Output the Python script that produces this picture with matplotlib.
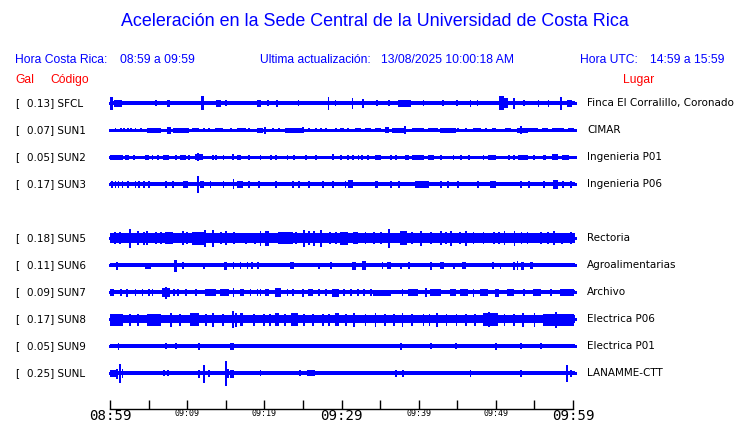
import matplotlib.pyplot as plt
from matplotlib.transforms import blended_transform_factory

# ---- data ----
title = "Aceleración en la Sede Central de la Universidad de Costa Rica"
hora_cr = "08:59 a 09:59"
hora_utc = "14:59 a 15:59"
actualizacion = "13/08/2025 10:00:18 AM"

# station slots top to bottom (SUN4 has no data in this window)
codes = ["SFCL", "SUN1", "SUN2", "SUN3", "SUN4", "SUN5", "SUN6", "SUN7", "SUN8", "SUN9", "SUNL"]
gal = [0.13, 0.07, 0.05, 0.17, None, 0.18, 0.11, 0.09, 0.17, 0.05, 0.25]
places = ["Finca El Corralillo, Coronado", "CIMAR", "Ingenieria P01", "Ingenieria P06", None,
          "Rectoria", "Agroalimentarias", "Archivo", "Electrica P06", "Electrica P01", "LANAMME-CTT"]

# background noise level of each trace (relative amplitude)
noise = [2.2, 0.5, 0.5, 1.8, None, 4.8, 2.0, 1.8, 4.2, 1.8, 1.7]

# bursts on each trace: (start min, end min, amplitude)
bursts_sfcl = [(0.0, 0.3, 6), (0.5, 1.4, 3), (5.8, 5.9, 2.5), (7.4, 7.6, 3), (11.8, 12.0, 6.5),
               (13.8, 14.3, 3), (14.9, 15.0, 2.5), (19.0, 19.5, 3), (20.4, 20.5, 2.5), (21.5, 21.7, 3),
               (24.3, 24.4, 2.5), (28.2, 28.3, 6), (29.1, 29.2, 2.5), (31.3, 31.4, 5), (32.7, 32.8, 4),
               (34.5, 34.6, 2.5), (36.0, 36.1, 2.5), (37.3, 38.9, 3), (40.5, 40.6, 2.5), (43.0, 43.1, 2.5),
               (44.9, 45.0, 2.5), (46.6, 46.7, 3), (47.5, 47.6, 2.5), (50.4, 50.9, 6.5), (51.0, 51.5, 4.5),
               (52.2, 52.3, 5), (53.5, 53.6, 2.5), (55.4, 55.5, 3), (56.7, 56.8, 3), (58.3, 58.4, 6),
               (59.2, 59.8, 3)]
bursts_sun1 = [(0.6, 0.7, 1.5), (1.3, 1.4, 1.5), (1.7, 1.8, 1.5), (2.2, 2.3, 1.5), (2.6, 2.7, 1.5),
               (3.2, 3.3, 1.5), (3.9, 4.0, 1.5), (4.8, 6.5, 2), (7.4, 7.8, 3), (8.2, 10.1, 1.8),
               (10.6, 11.4, 1.5), (12.1, 12.2, 1.5), (12.7, 12.8, 1.5), (13.6, 14.5, 1.5), (15.6, 15.7, 1.5),
               (16.5, 17.5, 1.5), (17.9, 18.0, 1.5), (19.0, 19.7, 1.8), (20.0, 20.1, 3), (21.0, 21.1, 1.5),
               (21.8, 21.9, 1.5), (22.7, 24.9, 1.8), (24.9, 25.0, 2.5), (25.7, 25.8, 1.5), (26.6, 26.7, 1.5),
               (27.2, 27.3, 1.5), (27.9, 28.0, 1.5), (29.2, 29.3, 1.5), (29.8, 30.2, 1.5), (30.7, 30.8, 1.5),
               (31.7, 32.4, 1.5), (33.0, 33.7, 1.5), (34.3, 35.0, 1.5), (35.6, 36.0, 2.5), (36.5, 38.2, 2.2),
               (38.1, 38.2, 3.5), (39.1, 40.6, 1.5), (41.2, 42.4, 1.5), (42.8, 44.7, 1.8), (45.0, 45.1, 1.5),
               (46.0, 46.1, 1.5), (47.0, 47.9, 1.5), (48.6, 48.7, 1.5), (49.5, 49.9, 1.5), (51.2, 51.8, 1.5),
               (52.7, 54.0, 2.3), (53.1, 53.2, 3.5), (54.2, 55.3, 1.5), (56.0, 56.6, 1.5), (57.3, 58.7, 1.5),
               (59.4, 60.0, 1.5)]
bursts_sun2 = [(0.0, 1.6, 2), (1.9, 2.3, 1.8), (3.0, 3.1, 1.8), (4.5, 4.9, 1.8), (5.4, 5.5, 1.8),
               (6.1, 6.2, 1.8), (6.9, 7.5, 1.8), (8.4, 8.5, 1.8), (9.1, 9.7, 1.8), (10.1, 10.2, 1.8),
               (11.0, 11.9, 2.5), (11.3, 11.4, 3.5), (13.2, 13.3, 1.8), (13.6, 13.7, 1.8), (14.6, 14.7, 1.8),
               (15.8, 15.9, 2.5), (16.5, 16.8, 1.8), (17.9, 18.0, 1.8), (19.4, 19.5, 1.8), (20.7, 20.8, 1.8),
               (21.4, 21.5, 1.8), (22.9, 23.0, 1.8), (23.7, 23.8, 1.8), (25.3, 25.4, 1.8), (26.6, 26.7, 1.8),
               (28.8, 28.9, 2.5), (29.8, 29.9, 1.8), (30.7, 30.8, 1.8), (31.4, 31.5, 1.8), (32.1, 32.2, 1.8),
               (32.5, 32.6, 1.8), (33.3, 33.4, 1.8), (34.3, 35.0, 1.8), (36.3, 36.4, 1.8), (36.9, 37.0, 1.8),
               (38.2, 38.6, 1.8), (39.1, 40.6, 2), (41.2, 41.9, 1.8), (42.8, 42.9, 1.8), (44.4, 44.5, 1.8),
               (45.4, 45.5, 1.8), (46.4, 46.5, 1.8), (48.3, 48.4, 1.8), (49.0, 49.9, 2), (51.6, 51.7, 1.8),
               (52.2, 52.3, 1.8), (52.9, 54.0, 1.8), (54.8, 54.9, 1.8), (56.1, 56.4, 1.8), (57.3, 57.9, 2.5),
               (58.6, 59.4, 1.8)]
bursts_sun3 = [(0.1, 0.2, 3), (0.6, 0.7, 2.8), (1.0, 1.1, 2.8), (1.5, 1.6, 2.8), (2.2, 2.3, 2.8),
               (3.2, 3.3, 2.8), (3.6, 3.7, 2.8), (4.3, 4.4, 2.8), (4.9, 5.0, 2.8), (7.1, 7.2, 3),
               (8.0, 8.1, 2.8), (9.4, 10.0, 3), (11.3, 11.4, 8), (11.6, 12.1, 2.8), (12.9, 13.0, 2.8),
               (14.6, 14.7, 3), (15.9, 16.0, 4.5), (16.4, 17.1, 2.8), (17.9, 18.0, 2.8), (19.2, 19.3, 2.8),
               (21.4, 21.5, 2.8), (23.6, 23.7, 2.8), (24.4, 24.5, 2.8), (25.7, 25.8, 2.8), (27.5, 27.6, 2.8),
               (28.8, 28.9, 2.8), (30.4, 30.5, 2.8), (30.9, 31.4, 3.5), (34.3, 34.6, 3), (36.3, 36.4, 2.8),
               (37.3, 37.4, 2.8), (39.5, 41.2, 3), (42.8, 42.9, 2.8), (43.7, 43.8, 2.8), (45.0, 45.1, 2.8),
               (47.6, 47.7, 2.8), (49.2, 49.9, 3), (53.1, 53.2, 2.8), (54.2, 54.3, 2.8), (56.1, 56.2, 2.8),
               (57.4, 57.9, 4), (58.6, 58.7, 2.8), (59.6, 59.7, 2.8)]
bursts_sun5 = [(0.5, 0.6, 5.5), (1.2, 1.3, 5.5), (2.4, 2.6, 9), (3.5, 3.6, 6.5), (4.3, 4.4, 6), (4.7, 4.8, 6.5),
               (5.8, 5.9, 5.5), (6.5, 6.6, 5.5), (7.1, 8.0, 5.5), (9.3, 9.4, 6.5), (9.9, 10.0, 5.5),
               (10.6, 12.3, 6), (12.2, 12.3, 8), (13.2, 13.4, 8), (14.3, 14.4, 5.5), (14.9, 15.0, 6.5),
               (16.0, 16.1, 5.5), (17.5, 17.6, 5), (18.7, 18.8, 5), (19.4, 19.5, 7), (20.1, 20.5, 7),
               (21.8, 23.6, 5.5), (24.0, 24.1, 5.5), (25.0, 25.1, 8), (25.7, 25.8, 6.5), (26.3, 26.4, 7),
               (27.2, 27.3, 8), (28.4, 28.5, 5.5), (29.2, 29.3, 5.5), (29.8, 30.7, 6), (31.5, 32.0, 5.5),
               (33.0, 33.1, 5.5), (34.1, 34.2, 5.5), (35.0, 35.1, 5.5), (36.0, 36.1, 9), (37.6, 38.4, 6.5),
               (39.0, 39.1, 5.5), (40.2, 40.3, 7), (41.5, 41.6, 5.5), (42.8, 42.9, 6.5), (43.4, 43.5, 5.5),
               (44.1, 44.2, 7), (45.2, 45.3, 5.5), (46.0, 46.1, 7), (47.0, 47.1, 5.5), (48.3, 48.4, 5.5),
               (49.6, 49.7, 5.5), (50.3, 50.4, 5.5), (51.0, 51.1, 6.5), (52.3, 52.4, 7), (53.2, 53.3, 5.5),
               (54.0, 54.1, 5.5), (55.7, 55.8, 5.5), (56.6, 56.7, 5.5), (57.4, 57.5, 6.5), (58.5, 58.6, 5),
               (59.6, 59.7, 5.5)]
bursts_sun6 = [(0.8, 0.9, 3.5), (4.5, 5.2, 2.5), (8.3, 8.6, 5.5), (9.3, 9.4, 3), (12.1, 12.2, 2.5),
               (14.8, 15.0, 3.5), (15.9, 16.0, 3), (16.8, 16.9, 3), (17.7, 17.8, 3), (18.3, 18.4, 3),
               (19.0, 19.2, 3), (23.3, 23.7, 3), (27.0, 27.1, 2.5), (28.5, 28.6, 3), (31.4, 31.8, 3.5),
               (32.7, 33.0, 4), (35.2, 35.3, 3), (35.9, 36.3, 3), (37.6, 37.7, 2.5), (38.6, 38.7, 3),
               (41.5, 41.6, 3.5), (42.8, 43.2, 3), (44.5, 44.6, 2.5), (45.6, 46.0, 3), (49.5, 49.6, 3),
               (50.5, 50.6, 2.5), (52.2, 52.3, 3.5), (52.7, 52.8, 4), (53.2, 53.5, 3.5), (54.4, 54.7, 3)]
bursts_sun7 = [(0.0, 0.4, 3), (1.3, 1.4, 2.8), (2.1, 2.2, 3.5), (3.2, 3.3, 2.8), (4.1, 4.2, 2.8),
               (4.9, 5.0, 2.8), (5.4, 5.5, 2.8), (6.7, 7.6, 4), (7.1, 7.2, 5.5), (8.2, 8.3, 2.8),
               (8.7, 8.8, 2.8), (9.7, 9.8, 2.8), (11.0, 11.1, 2.8), (12.3, 13.6, 2.8), (14.3, 15.3, 2.8),
               (15.9, 16.0, 4), (16.8, 17.2, 2.8), (18.1, 18.2, 2.8), (19.0, 19.1, 2.8), (19.4, 19.5, 2.8),
               (20.1, 20.5, 2.8), (21.4, 22.0, 4), (22.9, 23.0, 2.8), (23.6, 23.7, 2.8), (24.9, 25.0, 3.5),
               (25.7, 26.2, 2.8), (27.0, 27.1, 2.8), (27.9, 28.0, 2.8), (28.8, 29.5, 3.5), (30.2, 30.3, 2.8),
               (31.1, 31.2, 2.8), (32.0, 32.1, 2.8), (32.8, 32.9, 2.8), (33.7, 33.8, 2.8), (34.1, 36.3, 2.5),
               (37.8, 37.9, 2.8), (38.6, 39.8, 3), (40.8, 40.9, 4), (41.5, 42.8, 2.8), (44.1, 44.7, 2.8),
               (45.4, 46.3, 2.8), (47.0, 47.1, 3.5), (47.9, 48.9, 2.8), (49.9, 50.3, 3.5), (51.4, 52.2, 2.8),
               (53.5, 53.6, 2.8), (54.8, 55.7, 2.8), (57.0, 57.1, 2.8), (58.3, 60.0, 3)]
bursts_sun8 = [(0.0, 1.5, 5.5), (2.5, 2.6, 5.5), (3.5, 3.6, 5.5), (4.8, 6.5, 5.5), (7.8, 7.9, 6.5),
               (9.0, 9.1, 5.5), (10.4, 11.4, 6), (12.3, 12.4, 5.5), (13.2, 13.3, 6.5), (14.5, 14.6, 5.5),
               (15.8, 15.9, 8), (16.2, 16.3, 6.5), (16.8, 17.1, 6), (18.5, 18.6, 5.5), (19.8, 19.9, 5.5),
               (20.6, 20.7, 5.5), (21.4, 21.8, 6), (22.6, 22.7, 5.5), (23.5, 24.2, 6), (25.0, 25.1, 5.5),
               (26.2, 26.3, 5.5), (27.5, 27.6, 5.5), (28.3, 28.4, 5.5), (29.2, 29.6, 6), (30.5, 30.6, 5.5),
               (31.5, 31.6, 6.5), (33.0, 33.1, 5.5), (34.3, 34.4, 6.5), (35.5, 35.6, 5.5), (36.7, 36.8, 5.5),
               (37.8, 37.9, 6.5), (39.0, 39.1, 5.5), (40.5, 40.6, 5.5), (41.3, 41.4, 5.5), (42.3, 42.4, 6.5),
               (43.5, 43.6, 5.5), (44.8, 44.9, 5.5), (46.0, 46.1, 5.5), (47.2, 47.3, 5.5), (48.4, 50.1, 6),
               (49.0, 49.1, 7), (51.0, 51.1, 5.5), (52.2, 52.3, 5.5), (53.4, 53.5, 6.5), (54.9, 55.0, 6.5),
               (56.1, 60.0, 5.5), (57.7, 57.8, 7.5)]
bursts_sun9 = [(1.0, 1.1, 2.8), (7.1, 7.2, 2.5), (8.4, 8.5, 2.5), (11.4, 11.5, 3), (15.6, 15.9, 2.8),
               (37.6, 37.7, 2.8), (41.5, 41.6, 2.5), (44.7, 44.8, 2.5), (49.9, 50.0, 2.8), (53.1, 53.2, 2.5),
               (55.7, 55.8, 2.5)]
bursts_sunl = [(0.0, 0.6, 3), (0.8, 0.9, 4.5), (1.2, 1.3, 9), (1.5, 1.6, 4), (6.9, 7.0, 2.5), (7.4, 7.5, 2.5),
               (11.4, 11.5, 3.5), (12.1, 12.2, 8.5), (12.7, 12.8, 3), (14.9, 15.0, 12), (15.2, 15.3, 4),
               (15.6, 16.0, 3.5), (19.4, 19.5, 2.5), (24.5, 24.6, 2.5), (25.5, 26.5, 2.5), (36.9, 37.0, 3),
               (37.8, 38.0, 3), (46.6, 46.7, 3), (53.1, 53.2, 3), (59.1, 59.2, 8), (59.6, 59.7, 3)]
bursts = [bursts_sfcl, bursts_sun1, bursts_sun2, bursts_sun3, [], bursts_sun5, bursts_sun6,
          bursts_sun7, bursts_sun8, bursts_sun9, bursts_sunl]

tick_minutes = list(range(0, 61, 5))
tick_labels = ["08:59", "", "09:09", "", "09:19", "", "09:29", "", "09:39", "", "09:49", "", "09:59"]
big_labels = ["08:59", "09:29", "09:59"]

# ---- drawing ----
BLUE = "#0000ff"
RED = "#ff0000"
W, H = 740, 423
AMP = 1 / 27  # one amplitude unit in row units


def fx(px):
    return px / W


def fy(py):
    return 1 - py / H


fig = plt.figure(figsize=(W / 100, H / 100), dpi=100)
fig.patch.set_facecolor("white")

ax = fig.add_axes([fx(110), fy(409), fx(573) - fx(110), (409 - 90) / H])
ax.set_xlim(0, 60)
ax.set_ylim((409 - 103) / 27, -13 / 27)
for s in ["top", "left", "right"]:
    ax.spines[s].set_visible(False)
ax.spines["bottom"].set_linewidth(1.0)
ax.set_yticks([])
ax.set_xticks(tick_minutes)
ax.set_xticklabels(tick_labels)
ax.tick_params(axis="x", direction="in", length=6.5, width=1, pad=0)
for lab in ax.get_xticklabels():
    lab.set_family("DejaVu Sans Mono")
    lab.set_fontsize(10.2 if lab.get_text() in big_labels else 6)

end = 60.3
for i, code in enumerate(codes):
    if gal[i] is None:
        continue
    b = noise[i] * AMP
    ax.fill_between([0, end], i - b, i + b, color=BLUE, lw=0, antialiased=False, clip_on=False)
    ax.plot([0, end], [i, i], color=BLUE, lw=0.8, antialiased=False, clip_on=False)
    for t0, t1, a in bursts[i]:
        ax.bar(t0, 2 * a * AMP, width=t1 - t0, bottom=i - a * AMP, align="edge",
               color=BLUE, edgecolor=BLUE, lw=0.5, antialiased=False, clip_on=False)

# row labels
tr = blended_transform_factory(fig.transFigure, ax.transData)
for i, code in enumerate(codes):
    if gal[i] is None:
        continue
    ax.text(fx(15), i, "[", transform=tr, va="center", ha="left", fontsize=7.5, family="DejaVu Sans")
    ax.text(fx(27), i, f"{gal[i]:.2f}] {code}", transform=tr, va="center", ha="left",
            fontsize=7.5, family="DejaVu Sans")
    ax.text(fx(587), i, places[i], transform=tr, va="center", ha="left", fontsize=7.5, family="DejaVu Sans")

# header texts
hdr = dict(family="Liberation Sans", fontsize=8.7, va="center", ha="left")
fig.text(fx(375), fy(22), title, family="Liberation Sans", fontsize=12.9, color=BLUE, ha="center", va="center")
fig.text(fx(15), fy(60), "Hora Costa Rica:", color=BLUE, **hdr)
fig.text(fx(120), fy(60), hora_cr, color=BLUE, **hdr)
fig.text(fx(260), fy(60), "Ultima actualización:", color=BLUE, **hdr)
fig.text(fx(381), fy(60), actualizacion, color=BLUE, **hdr)
fig.text(fx(580), fy(60), "Hora UTC:", color=BLUE, **hdr)
fig.text(fx(650), fy(60), hora_utc, color=BLUE, **hdr)
fig.text(fx(15), fy(80), "Gal", color=RED, **hdr)
fig.text(fx(50), fy(80), "Código", color=RED, **hdr)
fig.text(fx(623), fy(80), "Lugar", color=RED, **hdr)

fig.savefig("out.png", dpi=100)
